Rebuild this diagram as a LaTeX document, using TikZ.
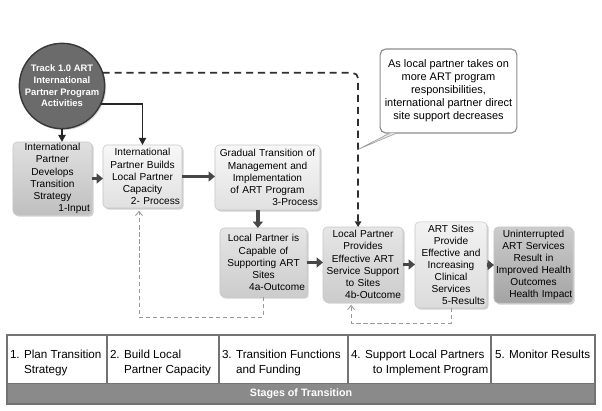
\documentclass[tikz,border=0pt]{standalone}
\usepackage{fontspec}
\setmainfont{Liberation Sans}
\usetikzlibrary{arrows.meta,shadows}

\newcommand{\rlabel}[1]{\par\raggedleft #1\par}

\begin{document}
\begin{tikzpicture}[x=0.025cm, y=-0.025cm,
  every node/.style={outer sep=0pt},
  procbox/.style={rounded corners=3pt, draw=black!22, line width=0.4pt, inner xsep=1.5pt, inner ysep=1pt,
    execute at begin node=\centering, font=\fontsize{7.2}{8.6}\selectfont,
    drop shadow={shadow xshift=1.2pt, shadow yshift=-1.2pt, opacity=0.3, fill=black!60}},
  blockarrow/.style={line width=2.4pt, black!72, -{Triangle[length=4.5pt,width=7pt]}},
  trackline/.style={line width=1.3pt, black!85, -{Triangle[length=5pt,width=5pt]}},
  feedback/.style={line width=0.6pt, black!40, dash pattern=on 3pt off 2pt, -{Straight Barb[length=3pt,width=5pt]}, shorten >=2pt},
  stagetext/.style={anchor=north west, inner sep=0pt, align=left, font=\fontsize{8.3}{10.7}\selectfont}]

\fill[white] (0,0) rectangle (602,411);
\useasboundingbox (0,0) rectangle (602,411);

\node[circle, fill=black!58, draw=black!78, line width=1pt, minimum size=59.7pt, inner sep=0pt, align=center, text=white,
  font=\bfseries\fontsize{6.7}{8.3}\selectfont, drop shadow={shadow xshift=1pt, shadow yshift=-1pt, opacity=0.3}] (track) at (62,86)
  {Track 1.0 ART\\International\\Partner Program\\Activities};

\node[procbox, top color=black!12, bottom color=black!25, minimum width=56.2pt, minimum height=51.9pt, text width=53.2pt] (input) at (52.5,178.5)
  {International\\Partner\\Develops\\Transition\\Strategy\rlabel{1-Input}};
\node[procbox, top color=black!3, bottom color=black!12, minimum width=56.2pt, minimum height=44.8pt, text width=53.2pt] (build) at (142.5,176.5)
  {International\\Partner Builds\\Local Partner\\Capacity\rlabel{2- Process}};
\node[procbox, top color=black!3, bottom color=black!12, minimum width=74.7pt, minimum height=46.2pt, text width=71.7pt] (gradual) at (267.5,177.5)
  {Gradual Transition of\\Management and\\Implementation\\of ART Program\rlabel{3-Process}};
\node[procbox, top color=black!10, bottom color=black!20, minimum width=61.9pt, minimum height=49.1pt, text width=58.9pt] (capable) at (263.5,262.5)
  {Local Partner is\\Capable of\\Supporting ART\\Sites\rlabel{4a-Outcome}};
\node[procbox, top color=black!10, bottom color=black!20, minimum width=56.9pt, minimum height=53.3pt, text width=53.9pt] (provides) at (363,264.5)
  {Local Partner\\Provides\\Effective ART\\Service Support\\to Sites\rlabel{4b-Outcome}};
\node[procbox, top color=black!5, bottom color=black!14, minimum width=51.2pt, minimum height=61.2pt, text width=48.2pt] (sites) at (451,265)
  {ART Sites\\Provide\\Effective and\\Increasing\\Clinical\\Services\rlabel{5-Results}};
\node[procbox, top color=black!20, bottom color=black!36, inner xsep=0.5pt, minimum width=56.2pt, minimum height=54.1pt, text width=55.2pt] (impact) at (533.5,265)
  {Uninterrupted\\ART Services\\Result in\\Improved Health\\Outcomes\rlabel{Health Impact}};

\node[rounded corners=4pt, draw=black!45, line width=0.8pt, fill=white, align=center, minimum width=93.2pt, minimum height=59.7pt,
  font=\fontsize{7.8}{9.2}\selectfont] (note) at (448.5,91)
  {As local partner takes on\\more ART program\\responsibilities,\\international partner direct\\site support decreases};
\coordinate (lean) at (359,149);

\draw[trackline] (track.south) -- (track.south |- input.north);
\draw[trackline] (track.-25) -| (build.north);
\draw[line width=1.2pt, black!82, dash pattern=on 5pt off 3.5pt, rounded corners=4pt, -{Triangle[length=4pt,width=4.5pt]}]
  (track.18) -| ([xshift=-3.5pt]provides.north);
\filldraw[fill=black!10, draw=black!40, line width=0.4pt] ([xshift=7pt]note.south west) -- (lean) -- ([xshift=12pt]note.south west);

\draw[blockarrow] (input.east) -- (input.east -| build.west);
\draw[blockarrow] (build.east) -- (build.east -| gradual.west);
\draw[blockarrow] ([xshift=-4pt]capable.north |- gradual.south) -- ([xshift=-4pt]capable.north);
\draw[blockarrow] (capable.east) -- (capable.east -| provides.west);
\draw[blockarrow] (provides.east) -- (provides.east -| sites.west);
\draw[blockarrow] (sites.east) -- (sites.east -| impact.west);

\draw[feedback] (capable.south) -- ++(0,20) -| ([xshift=-2.5pt]build.south);
\draw[feedback] (sites.south) -- ++(0,15) -| ([xshift=-8.5pt]provides.south);

\draw[black!55, line width=0.8pt, fill=white] (7,335) rectangle (595,384);
\fill[black!46] (7,384) rectangle (595,404);
\draw[black!55, line width=0.8pt] (7,335) rectangle (595,404);
\draw[black!55, line width=0.8pt] (107,335) -- (107,384);
\draw[black!55, line width=0.8pt] (219,335) -- (219,384);
\draw[black!55, line width=0.8pt] (348,335) -- (348,384);
\draw[black!55, line width=0.8pt] (491,335) -- (491,384);

\node[stagetext] (plan) at (10,350) {1. Plan Transition\\\phantom{1. }Strategy};
\node[stagetext] (capacity) at (110,350) {2. Build Local\\\phantom{2. }Partner Capacity};
\node[stagetext] (funding) at (222,350) {3. Transition Functions\\\phantom{3. }and Funding};
\node[stagetext] (support) at (351,350) {4. Support Local Partners\\\phantom{4. S}to Implement Program};
\node[stagetext] (monitor) at (495,350) {5. Monitor Results};
\node[text=white, font=\bfseries\fontsize{7.6}{9}\selectfont, inner sep=0pt] (stages) at (301,394) {Stages of Transition};
\end{tikzpicture}
\end{document}
